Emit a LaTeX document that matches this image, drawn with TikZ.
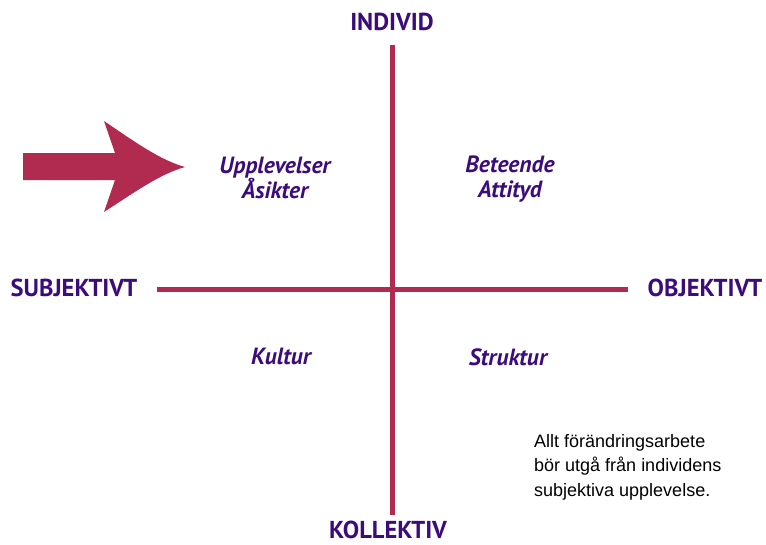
\documentclass[tikz,border=0pt]{standalone}
\usepackage{fontspec}
\setmainfont{Liberation Sans}
\newfontfamily\labfont{PT Sans}
\definecolor{axiscol}{HTML}{B12A50}
\definecolor{txtcol}{HTML}{3C0C7A}
\begin{document}
\begin{tikzpicture}[x=1pt,y=-1pt,
  axislabel/.style={text=txtcol,font=\labfont\bfseries\fontsize{24.5}{26}\selectfont,inner sep=0pt},
  quadlabel/.style={text=txtcol,font=\labfont\bfseries\itshape\fontsize{23.5}{25}\selectfont,align=center,inner sep=0pt},
  axisline/.style={draw=axiscol,line width=5pt}]
\useasboundingbox (0,0) rectangle (766,544);
\node[axislabel] (top) at (392,22) {INDIVID};
\node[axislabel] (bot) at (388,530) {KOLLEKTIV};
\node[axislabel] (left) at (74,288) {SUBJEKTIVT};
\node[axislabel] (right) at (705,288) {OBJEKTIVT};
\coordinate (vt) at (392,45);
\coordinate (vb) at (392,515);
\coordinate (hl) at (157,289);
\coordinate (hr) at (628,289);
\draw[axisline] (vt) -- (vb);
\draw[axisline] (hl) -- (hr);
\node[quadlabel] (q1) at (275,178) {Upplevelser\\Åsikter};
\node[quadlabel] (q2) at (510,179) {Beteende\\Attityd};
\node[quadlabel] (q3) at (281,356) {Kultur};
\node[quadlabel] (q4) at (508,357) {Struktur};
\node[anchor=north west,align=left,inner sep=0pt,font=\fontsize{18}{24.5}\selectfont] (note) at (534,434)
  {Allt förändringsarbete\\bör utgå från individens\\subjektiva upplevelse.};
\fill[axiscol] (23,153) -- (115,153) -- (104,121)
  .. controls (135,142) and (160,160) .. (185,167)
  .. controls (160,174) and (135,192) .. (104,212)
  -- (115,180) -- (23,180) -- cycle;
\end{tikzpicture}
\end{document}
